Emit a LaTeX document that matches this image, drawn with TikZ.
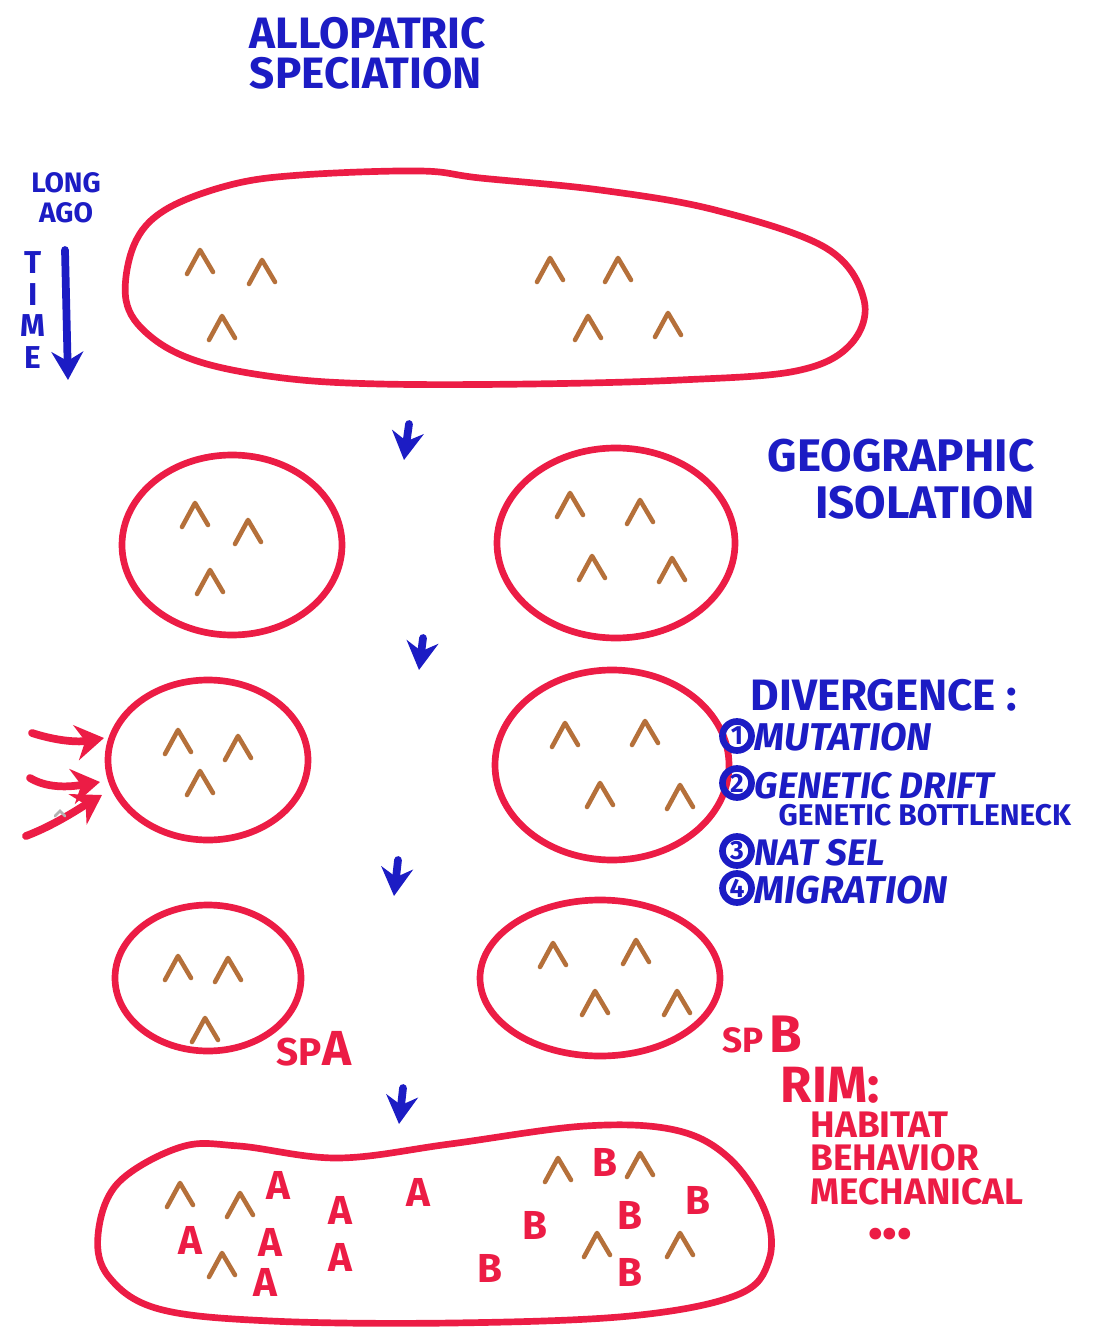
\documentclass[tikz,border=0pt]{standalone}
\usepackage{fontspec}
\setmainfont{Fira Sans}
\usetikzlibrary{arrows.meta}

\definecolor{marcador}{HTML}{1C1CC4}
\definecolor{rojo}{HTML}{EC1C45}
\definecolor{cafe}{HTML}{B5703A}

\tikzset{
  pob/.style={draw=rojo, line width=1.9pt},
  flechaazul/.style={draw=marcador, line width=2.2pt, line cap=round, -{Stealth[length=8pt,width=9pt]}},
  flecharoja/.style={draw=rojo, line width=2.2pt, line cap=round, -{Stealth[length=8pt,width=10pt]}},
  azul/.style={text=marcador, inner sep=0pt},
  rotulo/.style={text=rojo, inner sep=0pt},
  letra/.style={text=rojo, inner sep=0pt, font=\bfseries\fontsize{11.5}{11.5}\selectfont},
  numcirc/.style={circle, draw=marcador, line width=1.9pt, text=marcador, inner sep=0pt,
    minimum size=0.29cm, font=\bfseries\fontsize{7.5}{7.5}\selectfont},
  caret/.pic={\draw[cafe, line width=1.3pt, line cap=round, line join=round] (-13,12) -- (0,-12) -- (13,10);}
}

\begin{document}
\begin{tikzpicture}[x=0.01cm, y=-0.01cm]
    \fill[white] (0,0) rectangle (1094,1337);
    \useasboundingbox (0,0) rectangle (1094,1337);

    % Titulo
    \node[azul, align=left, font=\bfseries\fontsize{12.5}{11.5}\selectfont] (titulo) at (368,53) {ALLOPATRIC\\SPECIATION};

    % Tiempo
    \node[azul, align=center, font=\bfseries\fontsize{8}{8.5}\selectfont] (hace) at (66,198) {LONG\\AGO};
    \node[azul, align=center, font=\bfseries\fontsize{9}{9}\selectfont] (tiempo) at (33,310) {T\\I\\M\\E};
    \coordinate (t0) at (65,250);
    \coordinate (t1) at (68,380);
    \draw[flechaazul] (t0) -- (t1);

    % Poblacion ancestral
    \draw[pob] plot[smooth cycle, tension=0.6] coordinates {(126,300) (134,245) (165,210) (230,185) (301,175)
      (420,171) (480,178) (600,190) (715,210) (826,248) (864,300) (850,345) (796,371) (680,380)
      (530,384) (380,384) (283,378) (200,362) (150,336)};
    \foreach \x/\y in {200/262, 262/272, 222/328, 550/270, 618/270, 588/328, 668/325}
        \pic at (\x,\y) {caret};

    % Flechas de tiempo
    \draw[flechaazul] (409,424) -- (404,460);
    \draw[flechaazul] (423,638) -- (419,670);
    \draw[flechaazul] (398,860) -- (394,896);
    \draw[flechaazul] (403,1088) -- (399,1124);

    % Aislamiento geografico
    \draw[pob] (232,545) ellipse [x radius=110, y radius=90];
    \draw[pob] (616,543) ellipse [x radius=119, y radius=95];
    \foreach \x/\y in {195/515, 248/532, 210/582, 570/505, 640/512, 592/568, 672/570}
        \pic at (\x,\y) {caret};
    \node[azul, align=right, anchor=north east, font=\bfseries\fontsize{13}{13.5}\selectfont] (geo) at (1035,438) {GEOGRAPHIC\\ISOLATION};

    % Divergencia
    \draw[pob] (208,760) ellipse [x radius=100, y radius=80];
    \draw[pob] (612,765) ellipse [x radius=117, y radius=95];
    \foreach \x/\y in {178/742, 238/748, 200/783, 565/735, 645/733, 600/795, 680/797}
        \pic at (\x,\y) {caret};
    \draw[flecharoja] (32,733) .. controls (60,742) and (80,742) .. (104,738);
    \draw[flecharoja] (30,778) .. controls (50,790) and (75,786) .. (100,782);
    \draw[flecharoja] (26,836) .. controls (55,825) and (80,808) .. (102,795);
    \draw[gray!60, line width=0.8pt, line cap=round] (55,816) -- (60,811) -- (65,816);

    \node[azul, anchor=base west, font=\bfseries\fontsize{12.5}{12.5}\selectfont] (div) at (750,710) {DIVERGENCE :};
    \node[numcirc] (n1) at (737,736) {1};
    \node[numcirc] (n2) at (737,783) {2};
    \node[numcirc] (n3) at (737,851) {3};
    \node[numcirc] (n4) at (737,888) {4};
    \node[azul, anchor=base west, font=\bfseries\itshape\fontsize{11}{11}\selectfont] (mut) at (754,750) {MUTATION};
    \node[azul, anchor=base west, font=\bfseries\itshape\fontsize{10.5}{10.5}\selectfont] (deriva) at (754,798) {GENETIC DRIFT};
    \node[azul, anchor=base west, font=\bfseries\fontsize{8.5}{8.5}\selectfont] (cuello) at (778,825) {GENETIC BOTTLENECK};
    \node[azul, anchor=base west, font=\bfseries\itshape\fontsize{10.5}{10.5}\selectfont] (sel) at (754,865) {NAT SEL};
    \node[azul, anchor=base west, font=\bfseries\itshape\fontsize{11}{11}\selectfont] (migr) at (754,903) {MIGRATION};

    % Especies
    \draw[pob] (208,978) ellipse [x radius=93, y radius=73];
    \draw[pob] (600,978) ellipse [x radius=120, y radius=78];
    \foreach \x/\y in {178/968, 228/970, 205/1030, 553/955, 636/952, 595/1003, 677/1003}
        \pic at (\x,\y) {caret};
    \node[rotulo, anchor=base west, font=\bfseries] (spa) at (276,1065)
        {{\fontsize{11}{11}\selectfont SP}{\fontsize{14}{14}\selectfont A}};
    \node[rotulo, anchor=base west, font=\bfseries] (spb) at (722,1052)
        {{\fontsize{10}{10}\selectfont SP}\,{\fontsize{15}{15}\selectfont B}};

    % RIM
    \node[rotulo, anchor=base west, font=\bfseries\fontsize{14.5}{14.5}\selectfont] (rim) at (780,1102) {RIM:};
    \node[rotulo, anchor=north west, align=left, font=\bfseries\fontsize{10.5}{9.5}\selectfont] (tipos) at (810,1111)
        {HABITAT\\BEHAVIOR\\MECHANICAL};
    \node[rotulo, font=\bfseries\fontsize{12}{12}\selectfont] (puntos) at (890,1238) {•••};

    % Contacto secundario
    \draw[pob] plot[smooth cycle, tension=0.6] coordinates {(98,1235) (118,1183) (181,1147) (239,1146)
      (338,1158) (450,1144) (585,1126) (675,1130) (729,1158) (765,1211) (769,1260) (737,1295)
      (630,1316) (451,1323) (271,1321) (159,1309) (109,1277)};
    \foreach \x/\y in {180/1195, 240/1205, 222/1265, 558/1170, 640/1165, 597/1245, 680/1245}
        \pic at (\x,\y) {caret};
    \foreach \x/\y [count=\i] in {278/1185, 340/1210, 418/1192, 190/1240, 270/1242, 340/1257, 265/1282}
        \node[letra] (a\i) at (\x,\y) {A};
    \foreach \x/\y [count=\i] in {605/1162, 535/1225, 630/1215, 698/1200, 490/1268, 630/1272}
        \node[letra] (b\i) at (\x,\y) {B};
\end{tikzpicture}
\end{document}
